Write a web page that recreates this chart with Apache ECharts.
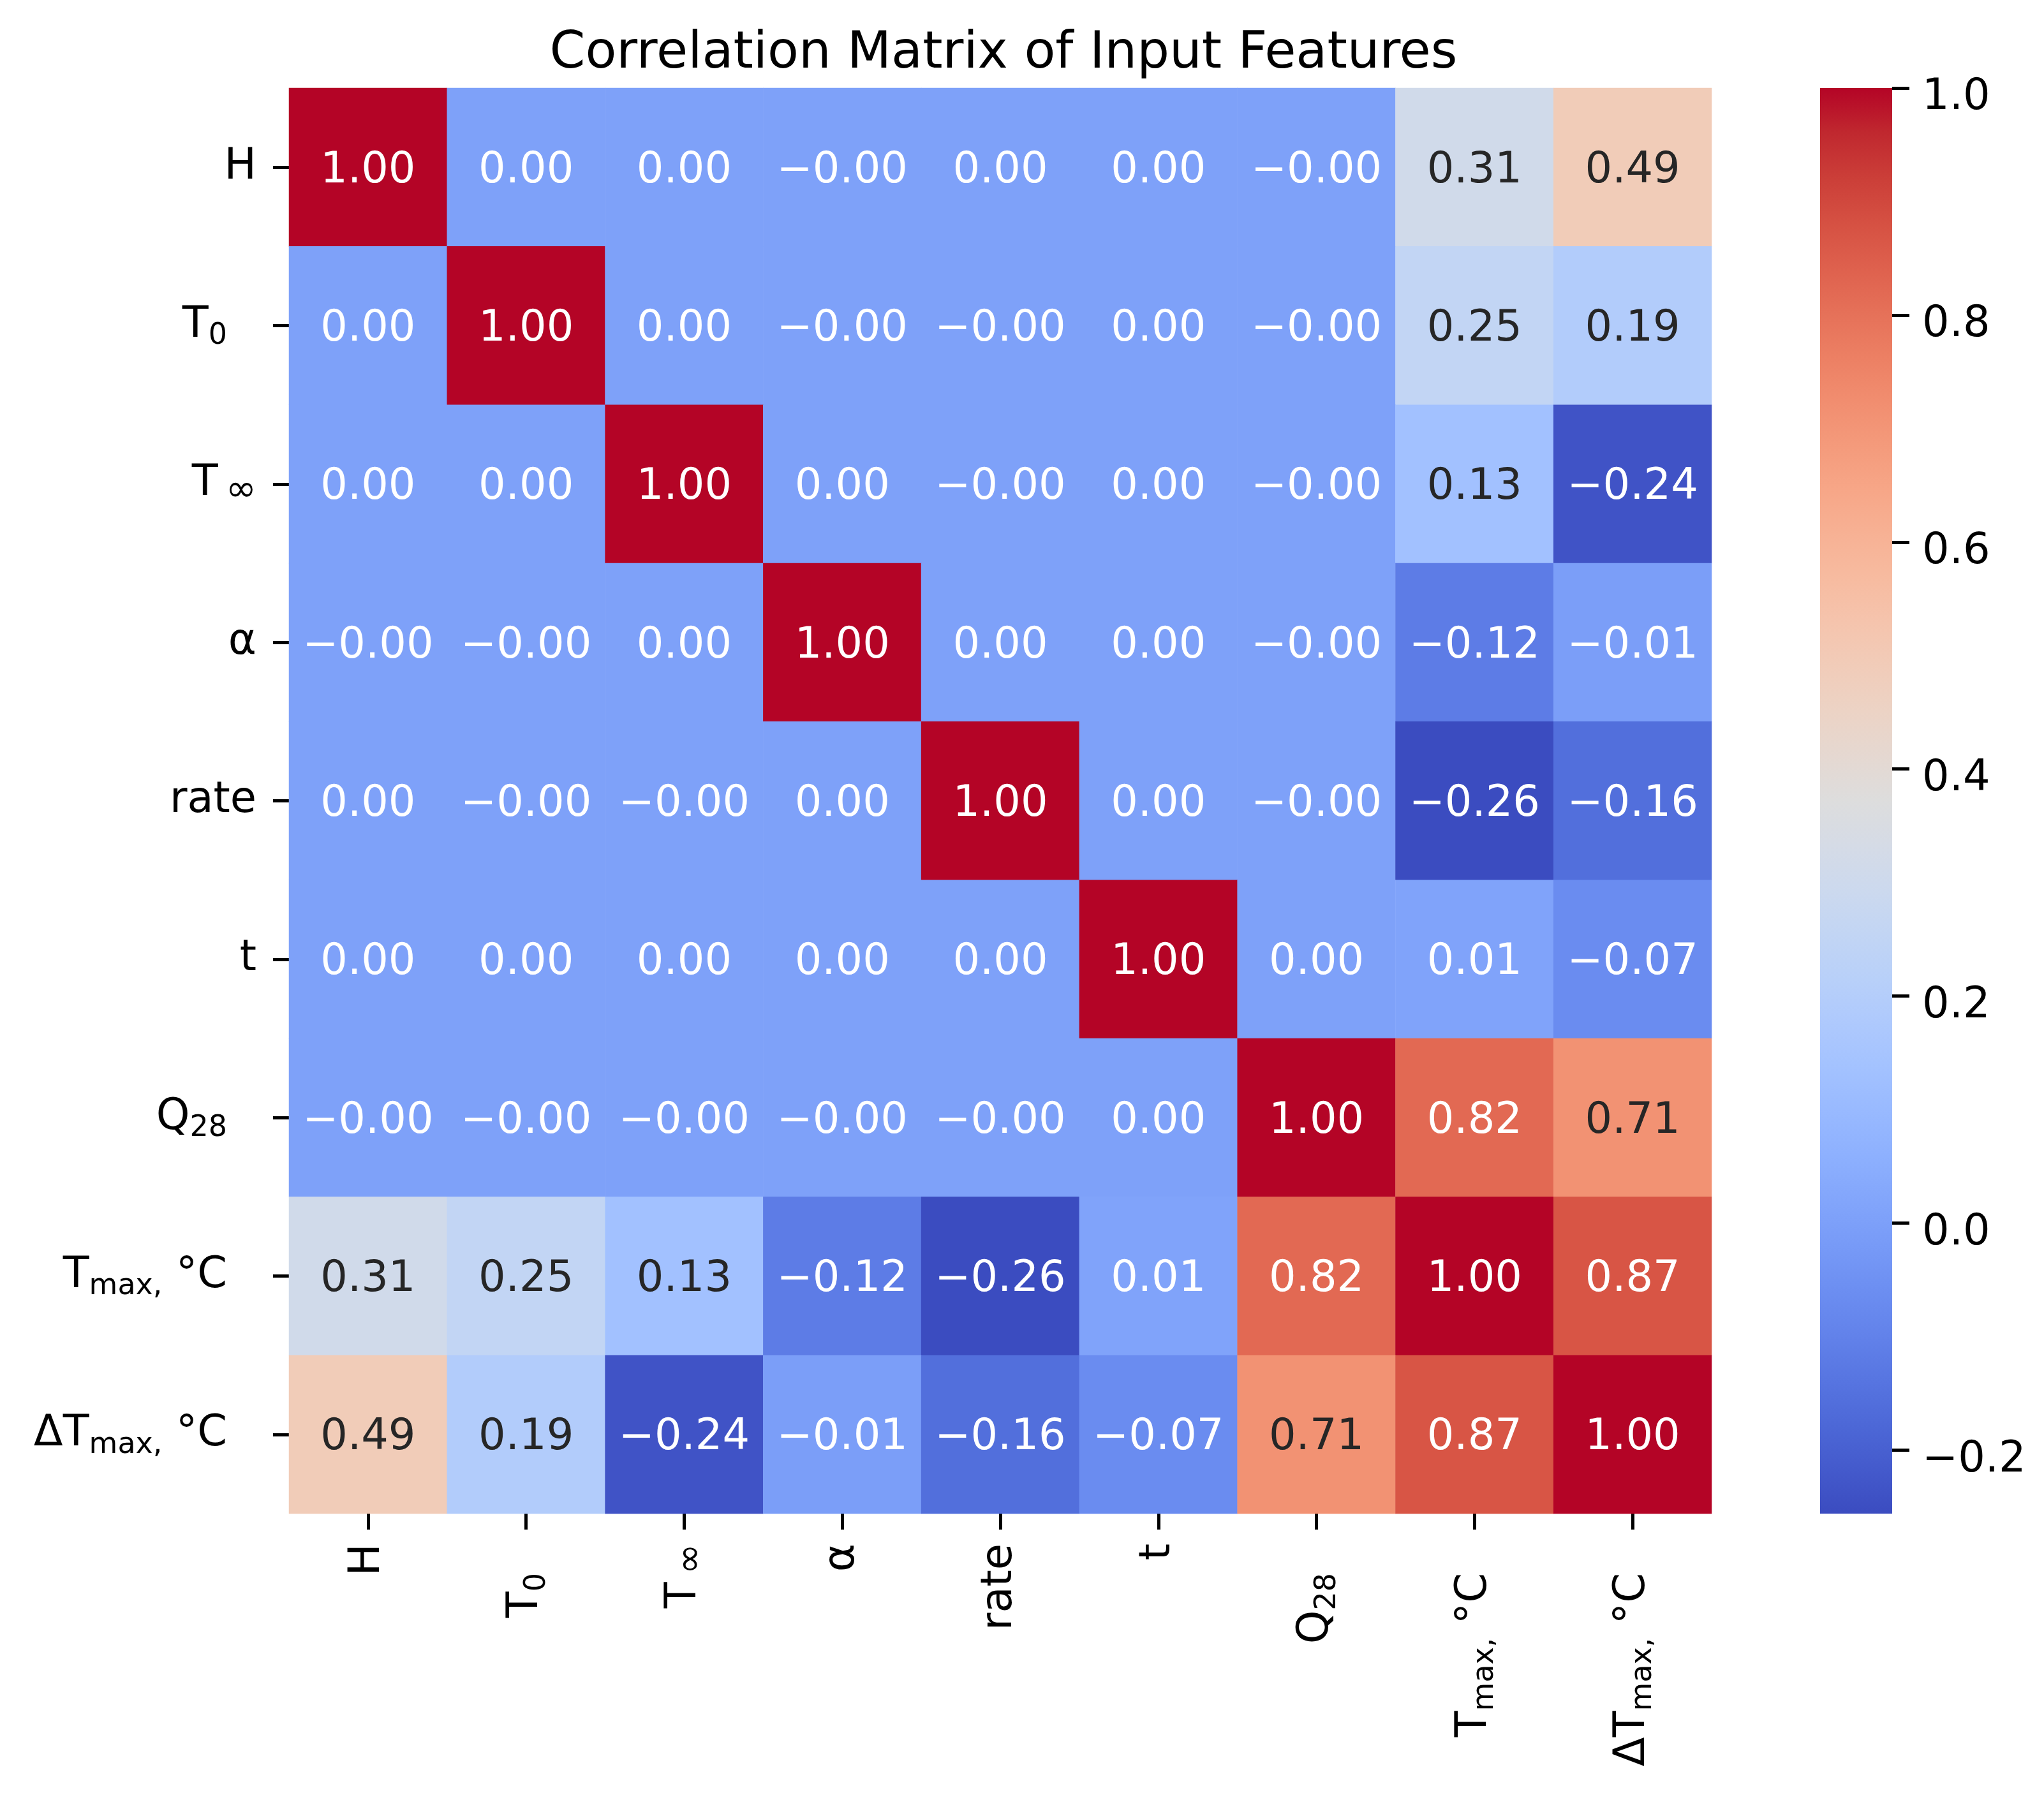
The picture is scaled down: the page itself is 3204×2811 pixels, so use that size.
<!DOCTYPE html>
<html>
<head>
<meta charset="utf-8">
<title>Correlation Matrix of Input Features</title>
<script src="https://cdn.jsdelivr.net/npm/echarts@6/dist/echarts.min.js"></script>
<style>
    html, body { margin: 0; padding: 0; background: #fff; }
    #main { width: 3204px; height: 2811px; }
</style>
</head>
<body>
<div id="main"></div>
<script>
// 特征名（rich 文本，下标用小字号，{g| } 是尾部留白）
var featureLabels = [
    '{n|H}',
    '{n|T}{s|0}{g| }',
    '{n|T}{inf|∞}',
    '{n|α}',
    '{n|rate}',
    '{n|t}',
    '{n|Q}{s|28}{g| }',
    '{n|T}{s|max,}{n| °C}{g| }',
    '{n|ΔT}{s|max,}{n| °C}{g| }'
];

// 相关系数矩阵，按行（从上到下）
var rowH     = [1.00, 0.00, 0.00, -0.00, 0.00, 0.00, -0.00, 0.31, 0.49];
var rowT0    = [0.00, 1.00, 0.00, -0.00, -0.00, 0.00, -0.00, 0.25, 0.19];
var rowTinf  = [0.00, 0.00, 1.00, 0.00, -0.00, 0.00, -0.00, 0.13, -0.24];
var rowAlpha = [-0.00, -0.00, 0.00, 1.00, 0.00, 0.00, -0.00, -0.12, -0.01];
var rowRate  = [0.00, -0.00, -0.00, 0.00, 1.00, 0.00, -0.00, -0.26, -0.16];
var rowT     = [0.00, 0.00, 0.00, 0.00, 0.00, 1.00, 0.00, 0.01, -0.07];
var rowQ28   = [-0.00, -0.00, -0.00, -0.00, -0.00, 0.00, 1.00, 0.82, 0.71];
var rowTmax  = [0.31, 0.25, 0.13, -0.12, -0.26, 0.01, 0.82, 1.00, 0.87];
var rowDTmax = [0.49, 0.19, -0.24, -0.01, -0.16, -0.07, 0.71, 0.87, 1.00];
var matrix = [rowH, rowT0, rowTinf, rowAlpha, rowRate, rowT, rowQ28, rowTmax, rowDTmax];

// 颜色条刻度
var cbTicks = [-0.2, 0.0, 0.2, 0.4, 0.6, 0.8, 1.0];
var cbMin = -0.256;
var cbMax = 1.0;

// coolwarm 色带
var coolwarm = [
    '#3b4cc0', '#445acc', '#4d68d7', '#5775e1', '#6282ea', '#6c8ef1', '#779af7', '#82a5fb',
    '#8db0fe', '#98b9ff', '#a3c2ff', '#aec9fd', '#b8d0f9', '#c2d5f4', '#ccd9ee', '#d5dbe6',
    '#dddddd', '#e5d8d1', '#ecd3c5', '#f1ccb9', '#f5c4ad', '#f7bba0', '#f7b194', '#f7a687',
    '#f49a7b', '#f18d6f', '#ec7f63', '#e57058', '#de604d', '#d55042', '#cb3e38', '#c0282f',
    '#b40426'
];

var FONT = 'DejaVu Sans';

window.onload = function () {

    // 取色 + 亮度，决定格子里的文字用白色还是深色
    function hexToRgb(h) {
        return [parseInt(h.substr(1, 2), 16), parseInt(h.substr(3, 2), 16), parseInt(h.substr(5, 2), 16)];
    }
    function colorAt(v) {
        var t = (v - cbMin) / (cbMax - cbMin);
        t = Math.max(0, Math.min(1, t));
        var p = t * (coolwarm.length - 1);
        var i = Math.min(Math.floor(p), coolwarm.length - 2);
        var f = p - i;
        var a = hexToRgb(coolwarm[i]), b = hexToRgb(coolwarm[i + 1]);
        return [a[0] + (b[0] - a[0]) * f, a[1] + (b[1] - a[1]) * f, a[2] + (b[2] - a[2]) * f];
    }
    function luminance(rgb) {
        var c = rgb.map(function (x) {
            x = x / 255;
            return x <= 0.03928 ? x / 12.92 : Math.pow((x + 0.055) / 1.055, 2.4);
        });
        return 0.2126 * c[0] + 0.7152 * c[1] + 0.0722 * c[2];
    }
    function fmt(v, d) {
        var neg = v < 0 || Object.is(v, -0);
        return (neg ? '\u2212' : '') + Math.abs(v).toFixed(d);
    }

    // 组装热力图数据
    var cells = [];
    for (var r = 0; r < matrix.length; r++) {
        for (var c = 0; c < matrix[r].length; c++) {
            var v = matrix[r][c];
            var col = luminance(colorAt(v)) > 0.40 ? '#262626' : '#ffffff';
            cells.push({
                value: [c, r, v],
                label: {
                    formatter: '{v|' + fmt(v, 2) + '}',
                    color: col,
                    rich: { v: { color: col, fontFamily: FONT, fontSize: 67, padding: [12, 0, 0, 0] } }
                }
            });
        }
    }

    var rich = {
        n: { fontSize: 67, fontFamily: FONT, color: '#000', lineHeight: 80 },
        s: { fontSize: 46, fontFamily: FONT, color: '#000', lineHeight: 42, verticalAlign: 'bottom' },
        inf: { fontSize: 58, fontFamily: FONT, color: '#000', lineHeight: 32, verticalAlign: 'bottom', padding: [0, 0, 0, 12] },
        g: { fontSize: 67, fontFamily: FONT, lineHeight: 80, width: 46 }
    };

    var tickStyle = { show: true, alignWithLabel: true, length: 25, lineStyle: { color: '#000', width: 5 } };

    var myChart = echarts.init(document.getElementById('main'), null, { renderer: 'canvas' });

    myChart.setOption({
        backgroundColor: '#ffffff',
        animation: false,
        title: {
            text: 'Correlation Matrix of Input Features',
            left: 1568,
            textAlign: 'center',
            top: 40,
            textStyle: { fontFamily: FONT, fontSize: 80, fontWeight: 'normal', color: '#000' }
        },
        grid: [
            { left: 453, top: 138, width: 2230, height: 2235 },
            // 颜色条
            { left: 2853, top: 138, width: 113, height: 2235 }
        ],
        xAxis: [
            {
                gridIndex: 0,
                type: 'category',
                data: featureLabels,
                position: 'bottom',
                axisLine: { show: false },
                axisTick: tickStyle,
                axisLabel: { interval: 0, rotate: 90, margin: 47, rich: rich },
                splitLine: { show: false }
            },
            {
                gridIndex: 1,
                type: 'value',
                min: 0,
                max: 1,
                show: false
            }
        ],
        yAxis: [
            {
                gridIndex: 0,
                type: 'category',
                data: featureLabels,
                inverse: true,
                axisLine: { show: false },
                axisTick: tickStyle,
                axisLabel: { interval: 0, margin: 51, rich: rich },
                splitLine: { show: false }
            },
            {
                gridIndex: 1,
                type: 'value',
                min: cbMin,
                max: cbMax,
                position: 'right',
                axisLine: { show: false, onZero: false },
                splitLine: { show: false },
                axisTick: {
                    show: true,
                    length: 27,
                    customValues: cbTicks,
                    lineStyle: { color: '#000', width: 5 }
                },
                axisLabel: {
                    margin: 47,
                    customValues: cbTicks,
                    formatter: function (v) { return '{c|' + fmt(v, 1) + '}'; },
                    rich: {
                        c: { fontFamily: FONT, fontSize: 67, color: '#000', padding: [32, 0, 0, 0] }
                    }
                }
            }
        ],
        visualMap: {
            show: false,
            type: 'continuous',
            seriesIndex: 0,
            dimension: 2,
            min: -0.26,
            max: cbMax,
            inRange: { color: coolwarm }
        },
        series: [
            {
                type: 'heatmap',
                xAxisIndex: 0,
                yAxisIndex: 0,
                data: cells,
                label: {
                    show: true,
                    fontFamily: FONT,
                    fontSize: 67
                },
                itemStyle: { borderWidth: 0 },
                emphasis: { disabled: true }
            },
            {
                // 颜色条渐变
                type: 'custom',
                xAxisIndex: 1,
                yAxisIndex: 1,
                silent: true,
                z: 1,
                data: [[0, cbMin, cbMax]],
                renderItem: function (params, api) {
                    var p1 = api.coord([0, api.value(2)]);
                    var p2 = api.coord([1, api.value(1)]);
                    var stops = coolwarm.map(function (col, k) {
                        return { offset: k / (coolwarm.length - 1), color: col };
                    });
                    return {
                        type: 'rect',
                        shape: { x: p1[0], y: p1[1], width: p2[0] - p1[0], height: p2[1] - p1[1] },
                        style: { fill: new echarts.graphic.LinearGradient(0, 1, 0, 0, stops) }
                    };
                }
            }
        ]
    });
};
</script>
</body>
</html>
